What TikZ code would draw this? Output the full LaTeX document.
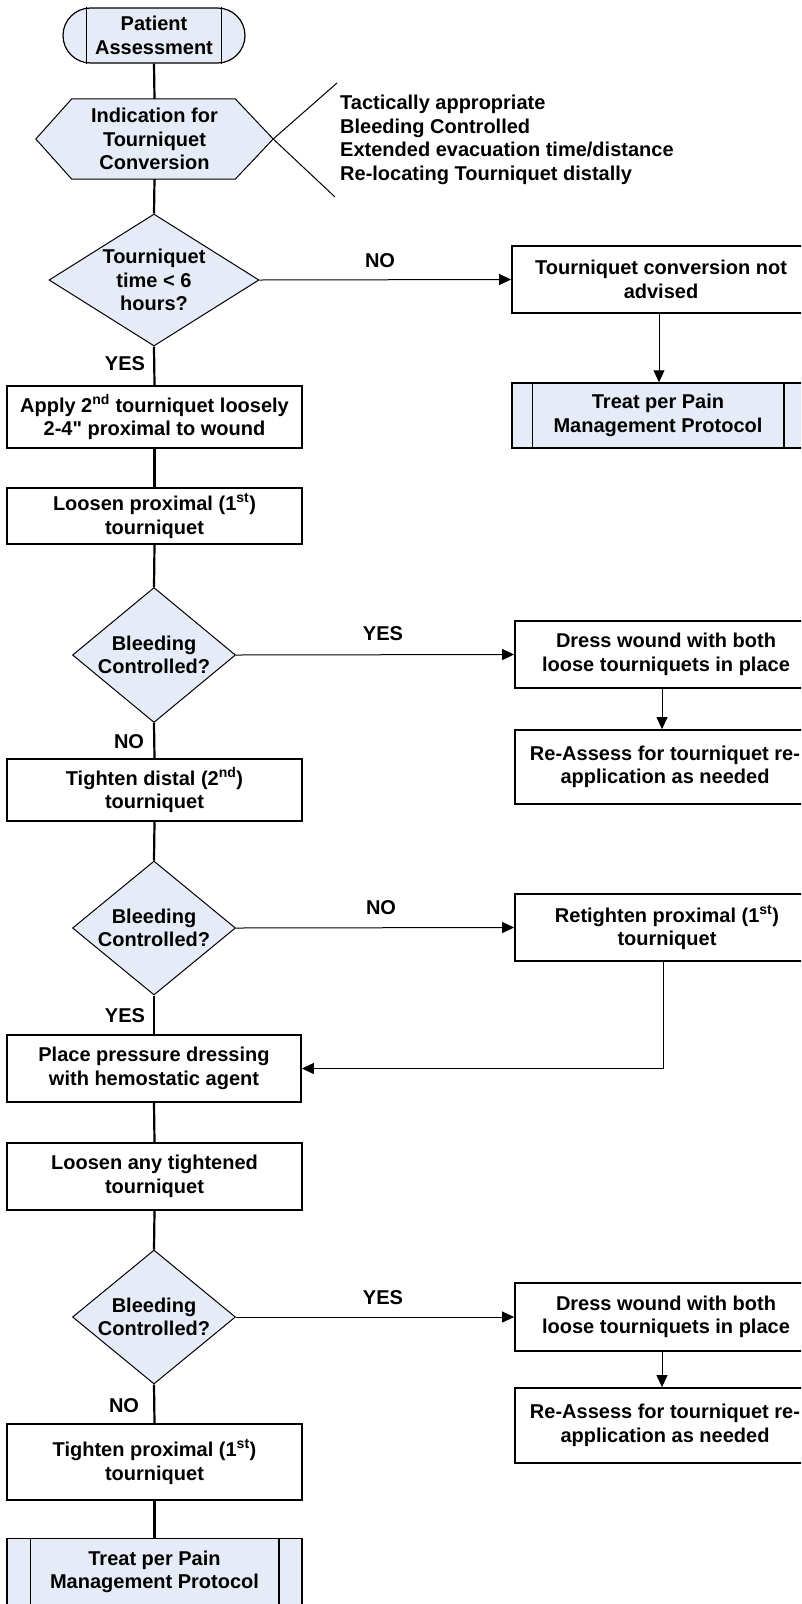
\documentclass[tikz,border=0pt]{standalone}
\usepackage{fontspec}
\setmainfont{Liberation Sans}[Ligatures=TeXOff]
\usetikzlibrary{arrows.meta,shapes.geometric}
\definecolor{fillblue}{RGB}{230,236,247}
\tikzset{
  txt/.style={font=\fontsize{20}{23.5}\selectfont\bfseries, align=center, inner sep=0pt},
  box/.style={txt, draw, line width=1.8pt, fill=white},
  predef/.style={box, fill=fillblue, line width=1.5pt},
  dia/.style={diamond, draw, line width=1pt, fill=fillblue, inner sep=0pt},
  mainline/.style={line width=2.2pt},
  arr/.style={line width=1pt, -{Triangle[length=12pt,width=11pt]}},
  thinline/.style={line width=1pt},
}
\begin{document}
\begin{tikzpicture}[x=1pt,y=-1pt]
\useasboundingbox (0,0) rectangle (801,1604);
\clip (0,0) rectangle (801,1604);
\fill[white] (0,0) rectangle (801,1604);

% start terminator
\node[txt, draw, fill=fillblue, line width=1.2pt, rounded corners=27.5pt,
      minimum width=182pt, minimum height=55pt] (start) at (154,35.5) {Patient\\Assessment};
\draw[line width=1.2pt] ([xshift=24pt]start.north west) -- ([xshift=24pt]start.south west);
\draw[line width=1.2pt] ([xshift=-24pt]start.north east) -- ([xshift=-24pt]start.south east);

% hexagon
\node[minimum width=237pt, minimum height=80pt, inner sep=0pt] (hex) at (154.5,139) {};
\draw[fill=fillblue, line width=1pt] (hex.west) -- ([xshift=36pt]hex.north west) -- ([xshift=-38pt]hex.north east)
  -- (hex.east) -- ([xshift=-38pt]hex.south east) -- ([xshift=36pt]hex.south west) -- cycle;
\node[txt] (hextxt) at (hex) {Indication for\\Tourniquet\\Conversion};

% annotation
\coordinate (a1) at (337,83);
\coordinate (a2) at (335,197);
\draw[thinline] (a1) -- (hex.east) -- (a2);
\node[txt, align=left, anchor=west] (ann) at (340,140) {Tactically appropriate\\Bleeding Controlled\\Extended evacuation time/distance\\Re-locating Tourniquet distally};

% decision 1
\node[dia, minimum width=210pt, minimum height=132pt] (d1) at (154,280) {};
\node[txt] (d1t) at (d1) {Tourniquet\\time < 6\\hours?};

\node[box, minimum width=298pt, minimum height=67pt] (notadv) at (661,279.5) {Tourniquet conversion not\\advised};
\node[predef, minimum width=292pt, minimum height=65pt] (treatR) at (658,415.5) {Treat per Pain\\Management Protocol};
\draw[line width=1.5pt] ([xshift=21pt]treatR.north west) -- ([xshift=21pt]treatR.south west);
\draw[line width=1.5pt] ([xshift=-21pt]treatR.north east) -- ([xshift=-21pt]treatR.south east);

\node[box, minimum width=295pt, minimum height=62pt] (apply) at (154.5,417) {Apply 2\textsuperscript{nd} tourniquet loosely\\2-4" proximal to wound};
\node[box, minimum width=295pt, minimum height=56pt] (loosen) at (154.5,516) {Loosen proximal (1\textsuperscript{st})\\tourniquet};

% decision 2
\node[dia, minimum width=163pt, minimum height=135pt] (d2) at (154,655) {};
\node[txt] (d2t) at (d2) {Bleeding\\Controlled?};
\node[box, minimum width=302pt, minimum height=67pt] (dress1) at (666,654.5) {Dress wound with both\\loose tourniquets in place};
\node[box, minimum width=300pt, minimum height=74pt] (reass1) at (665,767) {Re-Assess for tourniquet re-\\application as needed};

\node[box, minimum width=295pt, minimum height=62pt] (tightd) at (154.5,790) {Tighten distal (2\textsuperscript{nd})\\tourniquet};

% decision 3
\node[dia, minimum width=163pt, minimum height=134pt] (d3) at (154,928) {};
\node[txt] (d3t) at (d3) {Bleeding\\Controlled?};
\node[box, minimum width=304pt, minimum height=67pt] (retight) at (667,927.5) {Retighten proximal (1\textsuperscript{st})\\tourniquet};

\node[box, minimum width=294pt, minimum height=67pt] (place) at (154,1068.5) {Place pressure dressing\\with hemostatic agent};
\node[box, minimum width=295pt, minimum height=67pt] (loosany) at (154.5,1176.5) {Loosen any tightened\\tourniquet};

% decision 4
\node[dia, minimum width=163pt, minimum height=134pt] (d4) at (154,1317) {};
\node[txt] (d4t) at (d4) {Bleeding\\Controlled?};
\node[box, minimum width=302pt, minimum height=68pt] (dress2) at (666,1317) {Dress wound with both\\loose tourniquets in place};
\node[box, minimum width=300pt, minimum height=75pt] (reass2) at (665,1425.5) {Re-Assess for tourniquet re-\\application as needed};

\node[box, minimum width=295pt, minimum height=76pt] (tightp) at (154.5,1462) {Tighten proximal (1\textsuperscript{st})\\tourniquet};
\node[predef, minimum width=295pt, minimum height=67pt] (treatL) at (154.5,1572) {Treat per Pain\\Management Protocol};
\draw[line width=1.5pt] ([xshift=24pt]treatL.north west) -- ([xshift=24pt]treatL.south west);
\draw[line width=1.5pt] ([xshift=-24pt]treatL.north east) -- ([xshift=-24pt]treatL.south east);

% main column connectors
\draw[mainline] (start.south) -- (hex.north);
\draw[mainline] (hex.south) -- (d1.north);
\draw[mainline] (d1.south) -- (apply.north);
\draw[mainline] (apply.south) -- (loosen.north);
\draw[mainline] (loosen.south) -- (d2.north);
\draw[mainline] (d2.south) -- (tightd.north);
\draw[mainline] (tightd.south) -- (d3.north);
\draw[mainline] (d3.south) -- (place.north);
\draw[mainline] (place.south) -- (loosany.north);
\draw[mainline] (loosany.south) -- (d4.north);
\draw[mainline] (d4.south) -- (tightp.north);
\draw[mainline] (tightp.south) -- (treatL.north);

% side arrows
\draw[arr] (d1.east) -- (notadv.west);
\draw[arr] ([xshift=-2pt]notadv.south) -- ([xshift=-2pt]notadv.south |- treatR.north);
\draw[arr] (d2.east) -- (dress1.west);
\draw[arr] ([xshift=-4pt]dress1.south) -- ([xshift=-4pt]dress1.south |- reass1.north);
\draw[arr] (d3.east) -- (retight.west);
\draw[arr] ([xshift=-4pt]retight.south) |- (place.east);
\draw[arr] (d4.east) -- (dress2.west);
\draw[arr] ([xshift=-4pt]dress2.south) -- ([xshift=-4pt]dress2.south |- reass2.north);

% labels
\node[txt] (l1) at (380,261) {NO};
\node[txt] (l2) at (125,364) {YES};
\node[txt] (l3) at (383,634) {YES};
\node[txt] (l4) at (129,742) {NO};
\node[txt] (l5) at (381,908) {NO};
\node[txt] (l6) at (125,1016) {YES};
\node[txt] (l7) at (383,1298) {YES};
\node[txt] (l8) at (124,1406) {NO};
\end{tikzpicture}
\end{document}
